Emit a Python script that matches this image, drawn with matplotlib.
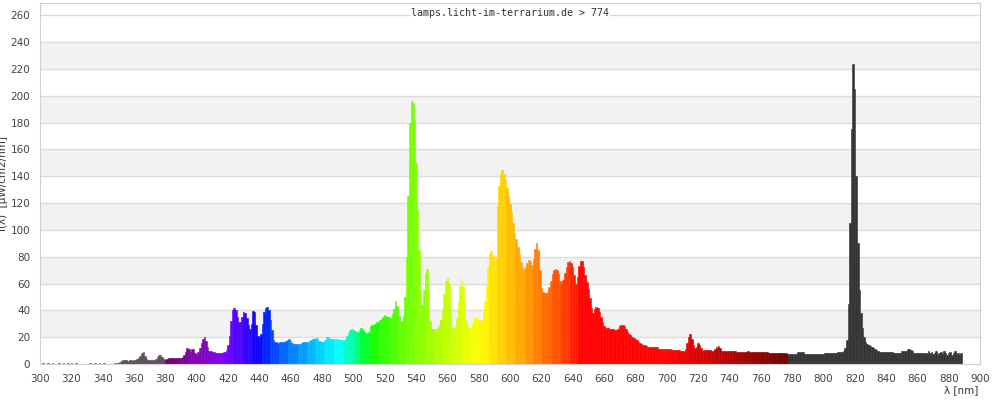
import numpy as np
import matplotlib
matplotlib.use('Agg')
import matplotlib.pyplot as plt

# spectrum, 1 nm steps from 300 nm to 888 nm
start_nm = 300
intensity = [
    0, 0, 0.5, 0, 0, 0.5, 0, 0, 0.5, 0,                 # 300
    0, 0, 0.5, 0, 0, 0.5, 0, 0, 0.5, 0,                 # 310
    0.5, 0, 0, 0.5, 0, 0, 0, 0, 0, 0,                   # 320
    0, 0, 0.5, 0, 0, 0.5, 0, 0, 0.5, 0,                 # 330
    0, 0.5, 0, 0, 0, 0, 0, 0, 0.7, 0.7,                 # 340
    1, 1.7, 2.2, 2.7, 2.7, 2.7, 2.5, 2.7, 2.7, 2.5,     # 350
    2.7, 3, 3.5, 4.5, 6, 8, 8.6, 6, 3.5, 3,             # 360
    3, 3, 3, 3.2, 4, 5.5, 6.7, 6.5, 5, 3.5,             # 370
    3, 4, 4.2, 4.2, 4.2, 4.2, 4.2, 4.5, 4.7, 4.7,       # 380
    4.7, 5, 6.5, 9, 12, 11, 9, 11, 11.5, 8,             # 390
    7, 9, 11.6, 16, 19, 20, 17.5, 13, 10, 9.5,          # 400
    9, 8.8, 8.5, 8.4, 8.4, 8.4, 8.4, 8.6, 9, 10.4,      # 410
    14, 21, 32, 40, 42, 40.5, 35, 31, 31, 35,           # 420
    39, 38, 34, 29, 26, 30, 39.5, 39, 29, 21,           # 430
    20, 22, 30, 38.5, 42, 42.5, 40, 33, 25, 18,         # 440
    16.5, 16.5, 16, 16.5, 16.5, 16.5, 16.5, 17, 18, 19, # 450
    17.5, 16, 15, 14.6, 14.6, 14.6, 14.8, 16, 16.5, 16.5,  # 460
    16.5, 16.5, 17, 17.8, 18.5, 19, 19.5, 19, 17.5, 17,    # 470
    16.5, 16.5, 18, 20, 20, 19, 19, 19, 18.5, 18.5,        # 480
    18.5, 18.5, 18, 18, 18, 19, 21, 23, 25, 25.8,          # 490
    25.5, 24.8, 24, 24, 25.5, 26.6, 25.5, 24, 23, 22.4,    # 500
    24, 28, 29, 29, 29.5, 31, 31.6, 32.5, 33.3, 35,        # 510
    36.3, 36, 35.3, 35, 34.6, 37, 41, 47, 43, 36,          # 520
    31, 32, 36, 50, 80, 125, 180, 196, 195, 182,           # 530
    150, 115, 85, 55, 44, 55, 68, 71, 55, 32,              # 540
    26, 26, 26.3, 26.3, 27.5, 30, 33, 40, 52, 62,          # 550
    64.4, 60, 40, 27, 25, 27.8, 34, 46, 58, 62,            # 560
    58, 46, 33, 28, 27, 26.6, 30, 34, 35.3, 34.5,          # 570
    33, 32, 33, 38, 47, 58, 72, 82, 84.5, 81,              # 580
    70, 80, 118, 133, 142, 145, 142, 137, 131, 125,        # 590
    119, 113, 105, 98, 93, 87, 82, 76, 72, 70.6,           # 600
    72, 75, 77.6, 76, 74, 78, 86, 90.5, 85, 70,            # 610
    57, 53.5, 52.7, 53, 54, 57.7, 62, 67, 70, 71,          # 620
    70.3, 67, 62, 59.7, 62.6, 67.6, 72, 75.8, 76.8, 75.6,  # 630
    72, 66, 59.5, 65, 73, 77, 76.5, 72, 66, 61,            # 640
    56, 49, 42, 38, 41, 42.3, 41.5, 38.5, 35, 31,          # 650
    28.5, 27.2, 26.8, 26.5, 26.3, 26, 25.9, 25.2, 25, 26,  # 660
    28, 29, 29, 28.3, 26.2, 24, 22.3, 21.6, 20.5, 19.5,    # 670
    18.3, 17.7, 16.5, 15.9, 15, 14.4, 13.8, 13.2, 12.7, 12.7,      # 680
    12.7, 12.7, 12.7, 12.7, 12.7, 11.2, 11.2, 11.2, 11.2, 11.2,    # 690
    11.2, 11.2, 11.2, 10.4, 10.4, 10.4, 10.4, 10.4, 10.4, 9.7,     # 700
    9.7, 9.7, 11, 16, 20.5, 22.4, 19, 14.2, 11.7, 13,              # 710
    15.4, 14.5, 12, 10, 10.2, 10.2, 10.2, 10.2, 10.2, 9.7,         # 720
    9.7, 11.5, 13, 13.4, 12, 10, 9.5, 9.4, 9.4, 9.4,               # 730
    9.4, 9.4, 9.4, 9.4, 9.4, 8.7, 8.7, 8.7, 8.7, 8.7,              # 740
    8.9, 9, 9.4, 9, 8.7, 8.7, 8.9, 8.7, 8.7, 8.7,                  # 750
    8.7, 8.7, 8.7, 8.7, 8.7, 8, 8, 8, 8, 8,                        # 760
    8, 8, 8, 8, 8, 8, 8, 7.5, 7.5, 7.5,                            # 770
    7.5, 7.5, 7.5, 7.5, 8.7, 8.7, 8.7, 8.7, 7.7, 7.7,              # 780
    7.7, 7.7, 7.7, 7.7, 7.7, 7.7, 7.7, 7.7, 7.7, 7.7,              # 790
    7.7, 8.5, 8.5, 8.5, 8.5, 8.5, 8.5, 8.5, 8.5, 8.7,              # 800
    8.7, 8.7, 8.7, 9.5, 12, 18, 45, 105, 175, 224,                 # 810
    205, 140, 90, 55, 38, 27, 20, 16.5, 15, 14,                    # 820
    13.5, 12.5, 12, 11, 10.4, 9.5, 8.9, 8.9, 8.9, 8.9,             # 830
    8.9, 8.9, 8.9, 8.9, 8.9, 8, 8, 8, 8, 8,                        # 840
    9.7, 9.7, 9.7, 9.7, 11.2, 11, 10.4, 9.5, 8.5, 8.5,             # 850
    8.5, 8.5, 8.5, 8.5, 8.5, 8.5, 8.5, 9.7, 8, 9,                  # 860
    7.5, 8.5, 9.5, 7, 8, 9, 7.5, 9.5, 8, 7,                        # 870
    8.5, 9, 7, 8, 9.5, 7.5, 8, 7, 8.5,                             # 880
]
wavelengths = np.arange(start_nm, start_nm + len(intensity))

x_ticks = list(range(300, 901, 20))
y_ticks = list(range(0, 261, 20))
title_text = 'lamps.licht-im-terrarium.de > 774'


def wl_rgb(w):
    # Bruton style wavelength -> rgb, gamma 0.8
    if w < 380:
        return '#5a4e5a'
    if w >= 777.5:
        return '#333333'
    if w < 440:
        r, g, b = -(w - 440) / 60, 0.0, 1.0
    elif w < 490:
        r, g, b = 0.0, (w - 440) / 50, 1.0
    elif w < 510:
        r, g, b = 0.0, 1.0, -(w - 510) / 20
    elif w < 580:
        r, g, b = (w - 510) / 70, 1.0, 0.0
    elif w < 645:
        r, g, b = 1.0, -(w - 645) / 65, 0.0
    else:
        r, g, b = 1.0, 0.0, 0.0
    if w < 420:
        f = 0.3 + 0.7 * (w - 380) / 40
    elif w > 700:
        f = 0.3 + 0.7 * (780 - w) / 80
    else:
        f = 1.0
    return tuple((max(c, 0) * f) ** 0.8 for c in (r, g, b))


def block_color(w):
    # colours come in blocks of ~5.8 nm
    if w < 380 or w >= 777.5:
        return wl_rgb(w)
    k = np.floor((777.4 - w) / 5.8)
    return wl_rgb(777.4 - (k + 0.5) * 5.8)


colors = [block_color(w) for w in wavelengths]

fig = plt.figure(figsize=(10, 4), dpi=100)
ax = fig.add_axes([0.04, 0.09, 0.94, 0.9025])
ax.set_xlim(300, 900)
ax.set_ylim(0, 269.2)

# background bands + grid
for lo in range(20, 260, 40):
    ax.axhspan(lo, lo + 20, color='#f2f2f2', zorder=0, lw=0)
for yv in y_ticks[1:]:
    ax.axhline(yv, color='#dcdcdc', lw=1, zorder=1)

ax.bar(wavelengths, intensity, width=1.0, color=colors, edgecolor=colors,
       linewidth=0.4, zorder=2)

ax.set_xticks(x_ticks)
ax.set_yticks(y_ticks)
ax.tick_params(length=0, labelsize=7.5, labelcolor='#444444', pad=7)
for s in ax.spines.values():
    s.set_color('#d0d0d0')

ax.text(0.5, 0.972, title_text, transform=ax.transAxes, ha='center', va='center',
        fontsize=7.2, family='DejaVu Sans Mono', color='#333333',
        bbox=dict(facecolor='white', edgecolor='none', pad=1), zorder=3)

ax.set_ylabel('I(λ)  [µW/cm2/nm]', fontsize=7.5, color='#333333')
ax.yaxis.set_label_coords(-0.034, 0.5)
fig.text(0.978, 0.012, 'λ [nm]', ha='right', va='bottom', fontsize=7.5, color='#333333')

fig.savefig('out.png', dpi=100)
